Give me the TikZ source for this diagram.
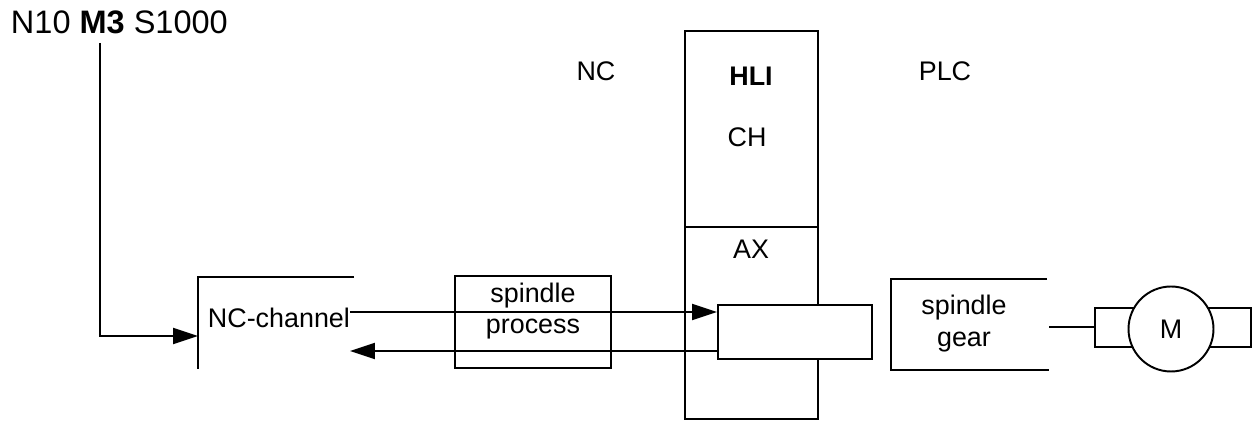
\documentclass[tikz,border=0pt]{standalone}
\usepackage{fontspec}
\setmainfont{Liberation Sans}
\usetikzlibrary{arrows.meta, positioning}

\begin{document}
\begin{tikzpicture}[>={Triangle[length=0.5cm,width=0.32cm]}, x=0.02cm, y=-0.02cm, line width=1.1pt,
    lbl/.style={inner sep=0pt, font=\fontsize{15.3}{18}\selectfont},
    blk/.style={draw, fill=white, inner sep=0pt, font=\fontsize{15.3}{18}\selectfont, align=center}]
    \useasboundingbox (0,0) rectangle (1252,421);
    % 1. NC-Satz und Kanal
    \node[inner sep=0pt, anchor=west, font=\fontsize{18.5}{22}\selectfont] (code) at (10,22) {N10 \textbf{M3} S1000};
    \coordinate (m3) at (100,43);
    \coordinate (chin) at (198,336);
    \draw (354,277) -- (198,277) -- (198,369);
    \node[lbl, anchor=base west] (ncch) at (207,328) {NC-channel};
    \draw[->] (m3) |- (chin);

    % 2. Schnittstelle HLI
    \node[draw, minimum width=2.66cm, minimum height=7.76cm] (hli) at (751.5,225) {};
    \draw (hli.west |- 0,227) -- (hli.east |- 0,227);
    \foreach \pos/\name/\txt in {(596,71)/nc/NC, (751,76)/hlit/\textbf{HLI}, (747,137)/ch/CH, (751,249)/ax/AX, (945,71)/plc/PLC} {
        \node[lbl] (\name) at \pos {\txt};
    }
    \node[blk, minimum width=3.08cm, minimum height=1.08cm] (axbox) at (795,332) {};

    % 3. Spindelprozess
    \node[draw, minimum width=3.12cm, minimum height=1.84cm] (spproc) at (533,322) {};
    \node[lbl] (spt) at (533,296) {spindle};
    \node[lbl] (prt) at (533,329) {process};
    \coordinate (out) at (350,312);
    \coordinate (ret) at (350,351);
    \draw[->] (out) -- (out -| axbox.west);
    \draw[<-] (ret) -- (ret -| axbox.west);

    % 4. Getriebe und Motor
    \draw (1047,279) -- (891,279) -- (891,370) -- (1049,370);
    \node[lbl] (gst) at (964,308) {spindle};
    \node[lbl] (gt) at (964,342) {gear};
    \coordinate (gout) at (1049,327);
    \draw (1095,308) rectangle (1251,347);
    \node[draw, circle, fill=white, minimum size=1.7cm, inner sep=0pt, font=\fontsize{15.3}{18}\selectfont] (mot) at (1171,329) {M};
    \draw (gout) -- (gout -| 1095,0);
\end{tikzpicture}
\end{document}
